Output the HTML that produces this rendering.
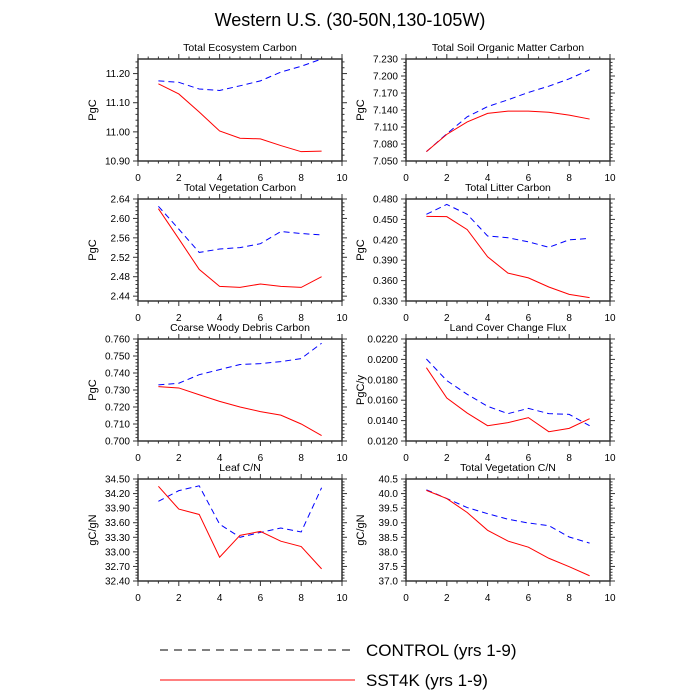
<!DOCTYPE html>
<html><head><meta charset="utf-8"><style>
html,body{margin:0;padding:0;background:#fff;}
svg{display:block;font-family:"Liberation Sans",sans-serif;}
</style></head><body>
<svg id="chart" width="700" height="700" viewBox="0 0 700 700">
<text x="350" y="26" text-anchor="middle" font-size="18" fill="#000">Western U.S. (30-50N,130-105W)</text>
<g>
<line x1="160" y1="650" x2="355" y2="650" stroke="#000" stroke-width="1" stroke-dasharray="8,6"/>
<text x="366" y="656" font-size="17">CONTROL (yrs 1-9)</text>
<line x1="160" y1="680" x2="355" y2="680" stroke="red" stroke-width="1"/>
<text x="366" y="686" font-size="17">SST4K (yrs 1-9)</text>
</g>
</svg>
<script>
const years=[1,2,3,4,5,6,7,8,9];
const xTicks=[0,2,4,6,8,10];
const titles=["Total Ecosystem Carbon","Total Soil Organic Matter Carbon","Total Vegetation Carbon","Total Litter Carbon","Coarse Woody Debris Carbon","Land Cover Change Flux","Leaf C/N","Total Vegetation C/N"];
const units=["PgC","PgC","PgC","PgC","PgC","PgC/y","gC/gN","gC/gN"];
const ctrl1=[11.175,11.170,11.147,11.142,11.158,11.175,11.205,11.225,11.250];
const sst1=[11.165,11.130,11.068,11.003,10.978,10.976,10.953,10.932,10.934];
const ctrl2=[7.0665,7.098,7.128,7.146,7.158,7.171,7.182,7.195,7.211];
const sst2=[7.0665,7.097,7.119,7.134,7.138,7.138,7.136,7.131,7.124];
const ctrl3=[2.625,2.578,2.530,2.537,2.540,2.548,2.573,2.569,2.566];
const sst3=[2.620,2.558,2.495,2.460,2.458,2.465,2.460,2.458,2.480];
const ctrl4=[0.4575,0.472,0.4575,0.4256,0.423,0.417,0.409,0.420,0.422];
const sst4=[0.4545,0.454,0.435,0.395,0.371,0.364,0.3506,0.3398,0.335];
const ctrl5=[0.733,0.734,0.739,0.742,0.745,0.7455,0.7467,0.7485,0.7575];
const sst5=[0.732,0.7312,0.7272,0.7233,0.720,0.7173,0.7152,0.710,0.7032];
const ctrl6=[0.02004,0.01792,0.01658,0.0154,0.01468,0.0152,0.01468,0.01461,0.0135];
const sst6=[0.01919,0.01621,0.01474,0.0135,0.0138,0.01429,0.01291,0.01324,0.01419];
const ctrl7=[34.04,34.26,34.36,33.57,33.30,33.40,33.49,33.41,34.32];
const sst7=[34.35,33.88,33.77,32.89,33.34,33.42,33.22,33.11,32.65];
const ctrl8=[40.13,39.83,39.52,39.31,39.12,38.99,38.90,38.51,38.30];
const sst8=[40.11,39.83,39.35,38.74,38.37,38.16,37.78,37.49,37.18];
const yTicks1=["10.90","11.00","11.10","11.20"];
const yTicks2=["7.050","7.080","7.110","7.140","7.170","7.200","7.230"];
const yTicks3=["2.44","2.48","2.52","2.56","2.60","2.64"];
const yTicks4=["0.330","0.360","0.390","0.420","0.450","0.480"];
const yTicks5=["0.700","0.710","0.720","0.730","0.740","0.750","0.760"];
const yTicks6=["0.0120","0.0140","0.0160","0.0180","0.0200","0.0220"];
const yTicks7=["32.40","32.70","33.00","33.30","33.60","33.90","34.20","34.50"];
const yTicks8=["37.0","37.5","38.0","38.5","39.0","39.5","40.0","40.5"];
const yMin=[10.90,7.050,2.43,0.330,0.700,0.0120,32.40,37.0];
const yMax=[11.25,7.230,2.64,0.480,0.760,0.0220,34.50,40.5];

const ctrls=[ctrl1,ctrl2,ctrl3,ctrl4,ctrl5,ctrl6,ctrl7,ctrl8];
const ssts=[sst1,sst2,sst3,sst4,sst5,sst6,sst7,sst8];
const yTickSets=[yTicks1,yTicks2,yTicks3,yTicks4,yTicks5,yTicks6,yTicks7,yTicks8];

const NS="http://www.w3.org/2000/svg";
const svg=document.getElementById('chart');
function mk(tag,attrs,parent){const e=document.createElementNS(NS,tag);for(const k in attrs)e.setAttribute(k,attrs[k]);parent.appendChild(e);return e;}

for(let i=0;i<8;i++){
  const col=i%2,row=Math.floor(i/2);
  const L=col?406:138,W=204,T=59+row*140,H=102;
  const xs=v=>L+v/10*W;
  const ys=v=>T+H-(v-yMin[i])/(yMax[i]-yMin[i])*H;
  const g=mk('g',{},svg);
  
  
  const t=mk('text',{x:L+W/2,y:T-8,'text-anchor':'middle','font-size':'10.5'},g);
  t.textContent=titles[i];
  
  
  const yl=mk('text',{x:0,y:0,'text-anchor':'middle','font-size':'11',transform:`translate(${L-42},${T+H/2}) rotate(-90)`},g);
  yl.textContent=units[i];
  
  
  for(let m=0;m<=20;m++){
    const v=m*0.5,x=xs(v),maj=m%4==0;
    const len=maj?5:2.5;
    mk('line',{x1:x,y1:T+H,x2:x,y2:T+H+len,stroke:'#333','stroke-width':1},g);
    mk('line',{x1:x,y1:T,x2:x,y2:T-len,stroke:'#333','stroke-width':1},g);
  }
  xTicks.forEach(v=>{
    const tx=mk('text',{x:xs(v),y:T+H+20,'text-anchor':'middle','font-size':'10'},g);
    tx.textContent=v;
    
    
  });
  const tk=yTickSets[i];
  const step=parseFloat(tk[1])-parseFloat(tk[0]);
  const start=parseFloat(tk[0])-5*step;
  for(let m=0;m<=60;m++){
    const v=start+m*step/5;
    if(v<yMin[i]-1e-9||v>yMax[i]+1e-9)continue;
    const y=ys(v),maj=m%5==0,len=maj?5:2.5;
    mk('line',{x1:L,y1:y,x2:L-len,y2:y,stroke:'#333','stroke-width':1},g);
    mk('line',{x1:L+W,y1:y,x2:L+W+len,y2:y,stroke:'#333','stroke-width':1},g);
  }
  tk.forEach(s=>{
    const ty=mk('text',{x:L-8,y:ys(parseFloat(s))+3.5,'text-anchor':'end','font-size':'10'},g);
    ty.textContent=s;
    
    
  });
  mk('rect',{x:L,y:T,width:W,height:H,fill:'none',stroke:'#333','stroke-width':1.5},g);
  const pc=ctrls[i].map((v,j)=>xs(years[j])+','+ys(v)).join(' ');
  const pl1=mk('polyline',{points:pc,fill:'none',stroke:'blue','stroke-width':1,'stroke-dasharray':'6,4'},g);
  
  
  const ps=ssts[i].map((v,j)=>xs(years[j])+','+ys(v)).join(' ');
  const pl2=mk('polyline',{points:ps,fill:'none',stroke:'red','stroke-width':1},g);
  
  
}
</script>
</body></html>
